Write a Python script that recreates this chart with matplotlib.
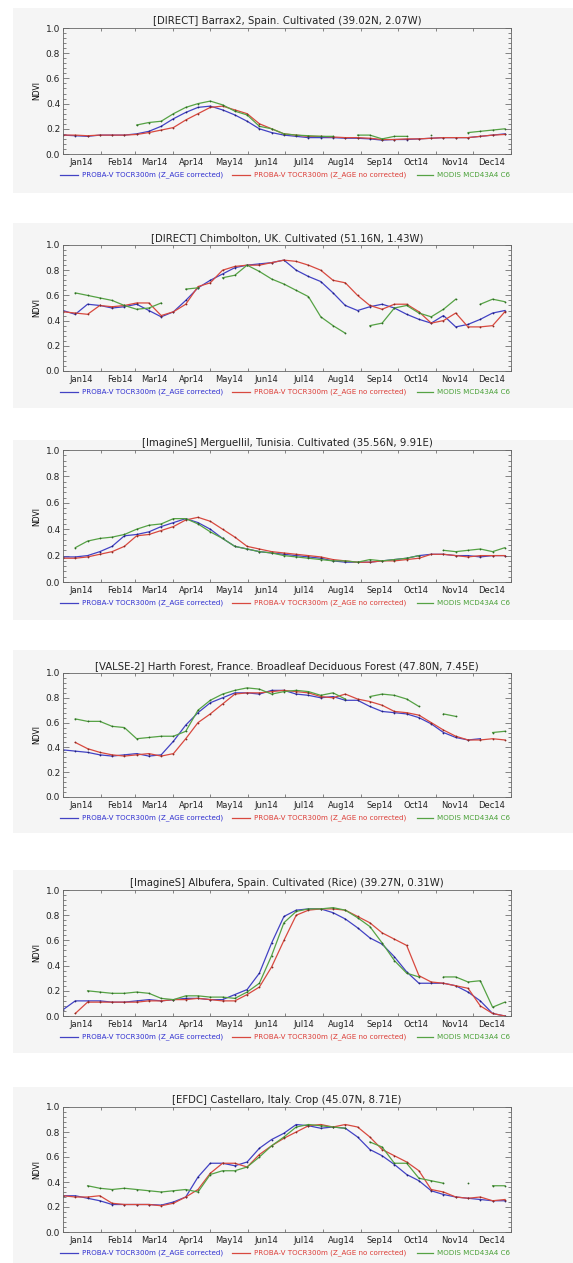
import numpy as np
import pandas as pd
import matplotlib
matplotlib.use('Agg')
import matplotlib.pyplot as plt
import matplotlib.dates as mdates
from matplotlib.lines import Line2D
from matplotlib.patches import Rectangle
from matplotlib.ticker import MultipleLocator, NullFormatter

nan = np.nan

# 10-day steps through 2014
dates = pd.date_range('2014-01-01', periods=37, freq='10D')

titles = [
    '[DIRECT] Barrax2, Spain. Cultivated (39.02N, 2.07W)',
    '[DIRECT] Chimbolton, UK. Cultivated (51.16N, 1.43W)',
    '[ImagineS] Merguellil, Tunisia. Cultivated (35.56N, 9.91E)',
    '[VALSE-2] Harth Forest, France. Broadleaf Deciduous Forest (47.80N, 7.45E)',
    '[ImagineS] Albufera, Spain. Cultivated (Rice) (39.27N, 0.31W)',
    '[EFDC] Castellaro, Italy. Crop (45.07N, 8.71E)',
]
series_names = ['PROBA-V TOCR300m (Z_AGE corrected)',
                'PROBA-V TOCR300m (Z_AGE no corrected)',
                'MODIS MCD43A4 C6']

# --- NDVI values ---
barrax_corr = [.15, .145, .14, .15, .15, .15, .16, .18, .22, .28, .33, .37, .38, .35, .31, .26, .20, .17, .15,
               .14, .13, .13, .13, .125, .125, .12, .11, .115, .115, .12, .125, .13, .13, .13, .14, .15, .16]
barrax_nocorr = [.15, .15, .145, .15, .15, .15, .155, .17, .19, .21, .27, .32, .37, .38, .35, .32, .24, .20, .16,
                 .15, .14, .14, .135, .13, .13, .125, .115, .115, .12, .12, .125, .13, .13, .13, .14, .15, .155]
barrax_modis = [nan, nan, nan, nan, nan, nan, .23, .25, .26, .32, .37, .40, .42, .39, .34, .31, .22, .20, .16,
                .15, .145, .14, .14, nan, .15, .15, .12, .14, .14, nan, .15, nan, nan, .17, .18, .19, .20]

chim_corr = [.48, .45, .53, .52, .50, .51, .53, .48, .43, .47, .56, .66, .72, .77, .82, .84, .85, .86, .88,
             .80, .75, .71, .62, .52, .48, .51, .53, .50, .45, .41, .38, .44, .35, .37, .41, .46, .48]
chim_nocorr = [.47, .46, .45, .52, .51, .52, .54, .54, .44, .47, .53, .67, .70, .80, .83, .84, .84, .86, .88,
               .87, .84, .80, .72, .70, .60, .52, .49, .53, .53, .47, .38, .40, .46, .35, .35, .36, .47]
chim_modis = [nan, .62, .60, .58, .56, .52, .49, .50, .54, nan, .65, .66, nan, .74, .76, .84, .79, .73, .69,
              .64, .59, .43, .36, .30, nan, .36, .38, .50, .52, .46, .43, .49, .57, nan, .53, .57, .55]

merg_corr = [.19, .19, .20, .23, .27, .35, .36, .38, .42, .45, .48, .45, .40, .33, .27, .25, .23, .22, .21,
             .20, .19, .18, .16, .15, .15, .15, .16, .17, .18, .20, .21, .21, .20, .20, .19, .20, .20]
merg_nocorr = [.18, .18, .19, .21, .23, .27, .35, .36, .39, .42, .47, .49, .46, .40, .34, .27, .25, .23, .22,
               .21, .20, .19, .17, .16, .15, .15, .16, .16, .17, .18, .21, .21, .20, .19, .20, .20, .20]
merg_modis = [nan, .26, .31, .33, .34, .36, .40, .43, .44, .48, .48, .44, .38, .33, .27, .25, .23, .22, .20,
              .19, .18, .17, .16, .16, .15, .17, .16, .17, .18, .20, nan, .24, .23, .24, .25, .23, .26]

harth_corr = [.38, .37, .36, .34, .33, .34, .35, .33, .34, .45, .58, .68, .76, .80, .84, .84, .83, .86, .86,
              .83, .82, .80, .81, .78, .78, .73, .69, .68, .67, .64, .59, .52, .48, .46, .47, nan, nan]
harth_nocorr = [nan, .44, .39, .36, .34, .33, .34, .35, .33, .35, .47, .60, .67, .75, .83, .84, .84, .85, .86,
                .85, .84, .81, .80, .83, .79, .77, .74, .69, .68, .66, .60, .54, .49, .46, .46, .47, .46]
harth_modis = [nan, .63, .61, .61, .57, .56, .47, .48, .49, .49, .53, .70, .78, .83, .86, .88, .87, .83, .85,
               .86, .85, .82, .84, .79, nan, .81, .83, .82, .79, .73, nan, .67, .65, nan, nan, .52, .53]

albu_corr = [.05, .12, .12, .12, .11, .11, .12, .13, .12, .13, .14, .14, .13, .13, .17, .21, .34, .58, .79,
             .84, .85, .85, .82, .77, .70, .62, .57, .47, .35, .26, .26, .26, .24, .19, .12, .02, .00]
albu_nocorr = [nan, .02, .11, .11, .11, .11, .11, .12, .12, .13, .13, .14, .13, .12, .12, .17, .23, .39, .60,
               .80, .84, .85, .85, .84, .79, .74, .66, .61, .56, .32, .27, .26, .24, .22, .08, .02, .00]
albu_modis = [nan, nan, .20, .19, .18, .18, .19, .18, .14, .13, .16, .16, .15, .15, .14, .19, .26, .48, .74,
              .83, .85, .85, .86, .84, .78, .71, .58, .44, .34, .31, nan, .31, .31, .27, .28, .07, .11]

cast_corr = [.29, .29, .27, .25, .22, .22, .22, .22, .215, .24, .28, .44, .55, .55, .53, .56, .67, .74, .79,
             .86, .85, .83, .84, .83, .76, .66, .61, .54, .46, .41, .33, .30, .28, .27, .26, .25, .25]
cast_nocorr = [.29, .28, .28, .29, .23, .22, .22, .22, .21, .23, .28, .34, .47, .55, .55, .52, .62, .69, .75,
               .80, .85, .86, .84, .86, .84, .76, .66, .61, .56, .49, .34, .32, .28, .27, .28, .25, .26]
cast_modis = [nan, nan, .37, .35, .34, .35, .34, .33, .32, .33, .34, .32, .46, .49, .49, .52, .60, .69, .76,
              .84, .86, .85, .84, .83, nan, .72, .68, .55, .55, .43, .41, .39, nan, .39, nan, .37, .37]

sites = [
    (barrax_corr, barrax_nocorr, barrax_modis),
    (chim_corr, chim_nocorr, chim_modis),
    (merg_corr, merg_nocorr, merg_modis),
    (harth_corr, harth_nocorr, harth_modis),
    (albu_corr, albu_nocorr, albu_modis),
    (cast_corr, cast_nocorr, cast_modis),
]

line_colors = ['#4242c4', '#d8493f', '#55a244']
dot_colors = ['#20207a', '#8a2a22', '#2f6a25']
text_colors = ['#2e2ed0', '#dc3c36', '#48a036']
BG = '#f5f5f5'

W, H = 573, 1263
fig = plt.figure(figsize=(W / 100, H / 100), dpi=100)

# pixel layout: box top, box bottom, axes top, axes bottom
layout = [(8, 193, 28, 154), (223, 408, 245, 371), (440, 620, 450, 582),
          (650, 833, 673, 797), (870, 1053, 890, 1016), (1087, 1263, 1107, 1232)]
AX_L, AX_R = 63, 511

for title, series, (bt, bb, at, ab) in zip(titles, sites, layout):
    fig.add_artist(Rectangle((13 / W, 1 - bb / H), (W - 13) / W, (bb - bt) / H,
                             transform=fig.transFigure, facecolor=BG, edgecolor='none', zorder=-5))
    ax = fig.add_axes([AX_L / W, 1 - ab / H, (AX_R - AX_L) / W, (ab - at) / H])
    ax.set_facecolor(BG)

    for vals, lc, dc in zip(series, line_colors, dot_colors):
        ax.plot(dates, vals, color=lc, lw=0.9, marker='o', ms=1.3,
                mfc=dc, mec=dc, mew=0)

    ax.set_xlim(pd.Timestamp('2014-01-01'), pd.Timestamp('2015-01-01'))
    ax.set_ylim(0, 1)
    ax.yaxis.set_major_locator(MultipleLocator(0.2))
    ax.yaxis.set_minor_locator(MultipleLocator(0.04))
    ax.xaxis.set_major_locator(mdates.MonthLocator())
    ax.xaxis.set_major_formatter(NullFormatter())
    ax.xaxis.set_minor_locator(mdates.MonthLocator(bymonthday=16))
    ax.xaxis.set_minor_formatter(mdates.DateFormatter('%b%y'))
    ax.tick_params(which='both', direction='in', top=True, right=True, color='#555555', width=0.5)
    ax.tick_params(axis='y', which='major', length=4, labelsize=6.5, pad=2, labelcolor='#222222')
    ax.tick_params(axis='y', which='minor', length=2)
    ax.tick_params(axis='x', which='major', length=2.5)
    ax.tick_params(axis='x', which='minor', length=0, labelsize=6, pad=3, labelcolor='#222222')
    ax.yaxis.set_major_formatter(plt.FormatStrFormatter('%.1f'))
    for s in ax.spines.values():
        s.set_color('#666666')
        s.set_linewidth(0.6)
    ax.set_ylabel('NDVI', fontsize=5.5, labelpad=3)
    ax.set_title(title, fontsize=7.3, pad=3, color='#222222')

    # legend row under the axes
    ly = 1 - (ab + 21) / H
    for (x0, x1, xt), name, lc, tc in zip([(60, 78, 82), (232, 250, 254), (417, 433, 437)],
                                          series_names, line_colors, text_colors):
        fig.add_artist(Line2D([x0 / W, x1 / W], [ly, ly], transform=fig.transFigure, color=lc, lw=0.9))
        fig.text(xt / W, ly, name, color=tc, fontsize=5.1, va='center', ha='left')

fig.savefig('out.png', dpi=100, facecolor='white')
